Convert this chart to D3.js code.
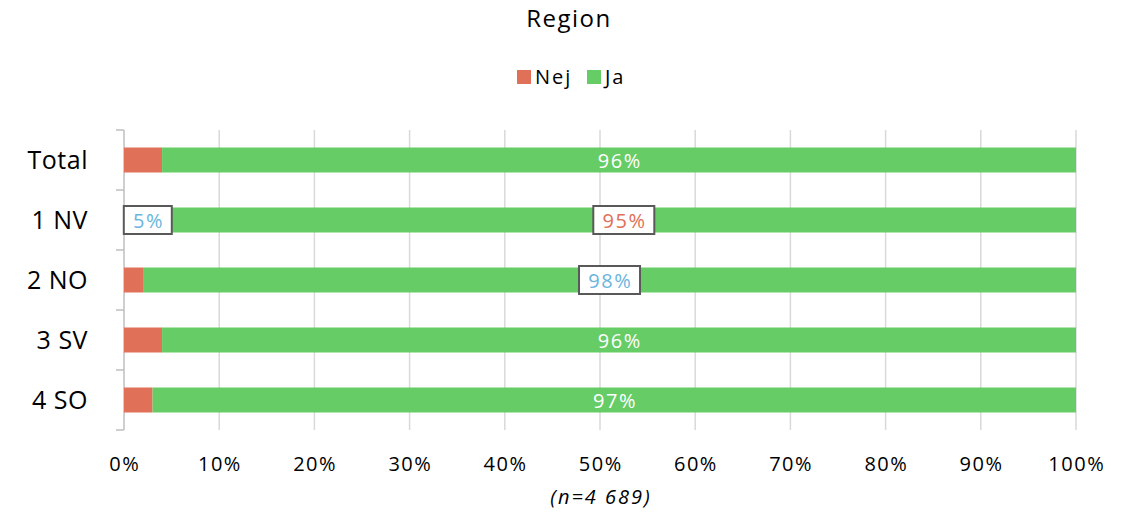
<!DOCTYPE html>
<html><head><meta charset="utf-8">
<script src="https://cdn.jsdelivr.net/npm/d3@7"></script>
<style>body{margin:0;background:#fff;}svg{display:block;font-family:"Open Sans","Noto Sans",sans-serif;}</style>
</head><body>
<svg id="c" width="1127" height="512"></svg>
<script>
const categories = ["Total","1 NV","2 NO","3 SV","4 SO"];
const seriesNames = ["Nej","Ja"];
const nej = [4,5,2,4,3];
const ja = [96,95,98,96,97];
const xTicks = [0,10,20,30,40,50,60,70,80,90,100];
const colors = {Nej:"#E07057", Ja:"#66CC66"};
const nejLabels = [null,{c:"#6BB5DD",box:true},null,null,null];
const jaLabels = [{c:"#fff",box:false},{c:"#E07057",box:true},{c:"#6BB5DD",box:true},{c:"#fff",box:false},{c:"#fff",box:false}];

const svg = d3.select("#c");
const x = d3.scaleLinear().domain([0,100]).range([124,1076]);
const band = d3.scaleBand().domain(categories).range([130,430]);

svg.append("g").selectAll("line").data(xTicks.slice(1)).join("line")
  .attr("x1",d=>x(d)).attr("x2",d=>x(d)).attr("y1",130).attr("y2",430)
  .attr("stroke","#d9d9d9").attr("stroke-width",1.5);
svg.append("line").attr("x1",124).attr("x2",124).attr("y1",130).attr("y2",430).attr("stroke","#bfbfbf").attr("stroke-width",1.5);
const bounds = categories.map(c=>band(c)).concat([430]);
svg.append("g").selectAll("line").data(bounds).join("line")
  .attr("x1",116).attr("x2",124).attr("y1",d=>d).attr("y2",d=>d).attr("stroke","#bfbfbf").attr("stroke-width",1.5);

const rows = categories.map((c,i)=>({c, nej:nej[i], ja:ja[i], i}));
const g = svg.append("g");
const bh = 25;
rows.forEach(r=>{
  const cy = band(r.c)+band.bandwidth()/2;
  g.append("rect").attr("x",x(0)).attr("width",x(r.nej)-x(0)).attr("y",cy-bh/2).attr("height",bh).attr("fill",colors.Nej);
  g.append("rect").attr("x",x(r.nej)).attr("width",x(r.nej+r.ja)-x(r.nej)).attr("y",cy-bh/2).attr("height",bh).attr("fill",colors.Ja);
});

function label(cx, cy, txt, spec){
  if(!spec) return;
  if(spec.box){
    const w = txt.length>2 ? 61 : 48;
    svg.append("rect").attr("x",cx-w/2).attr("y",cy-14).attr("width",w).attr("height",28)
      .attr("fill","#fff").attr("stroke","#595959").attr("stroke-width",2);
  }
  svg.append("text").attr("x",cx+0.75).attr("y",cy+1).attr("dy","0.36em").attr("text-anchor","middle")
    .attr("font-size",20).attr("letter-spacing",1.5).attr("fill",spec.c).text(txt);
}
rows.forEach(r=>{
  const cy = band(r.c)+band.bandwidth()/2;
  label((x(0)+x(r.nej))/2, cy, r.nej+"%", nejLabels[r.i]);
  label((x(r.nej)+x(r.nej+r.ja))/2, cy, r.ja+"%", jaLabels[r.i]);
});

svg.append("g").selectAll("text").data(categories).join("text")
  .attr("x",88).attr("y",d=>band(d)+band.bandwidth()/2).attr("dy","0.36em").attr("text-anchor","end")
  .attr("font-size",25).attr("letter-spacing",0.5).attr("fill","#000").text(d=>d);

svg.append("g").selectAll("text").data(xTicks).join("text")
  .attr("x",d=>x(d)+0.75).attr("y",464).attr("dy","0.36em").attr("text-anchor","middle")
  .attr("font-size",20).attr("letter-spacing",1.5).attr("fill","#000").text(d=>d+"%");

svg.append("text").attr("x",601).attr("y",497).attr("dy","0.36em").attr("text-anchor","middle")
  .attr("font-size",20).attr("letter-spacing",2).attr("font-style","italic").attr("fill","#000").text("(n=4 689)");

svg.append("text").attr("x",569).attr("y",18).attr("dy","0.36em").attr("text-anchor","middle")
  .attr("font-size",24).attr("letter-spacing",1.5).attr("fill","#000").text("Region");

const leg = [{n:"Nej",x:517},{n:"Ja",x:587}];
leg.forEach(l=>{
  svg.append("rect").attr("x",l.x).attr("y",70).attr("width",14).attr("height",14).attr("fill",colors[l.n]);
  svg.append("text").attr("x",l.x+18).attr("y",77).attr("dy","0.36em").attr("font-size",20).attr("letter-spacing",2).attr("fill","#000").text(l.n);
});
</script>
</body></html>
